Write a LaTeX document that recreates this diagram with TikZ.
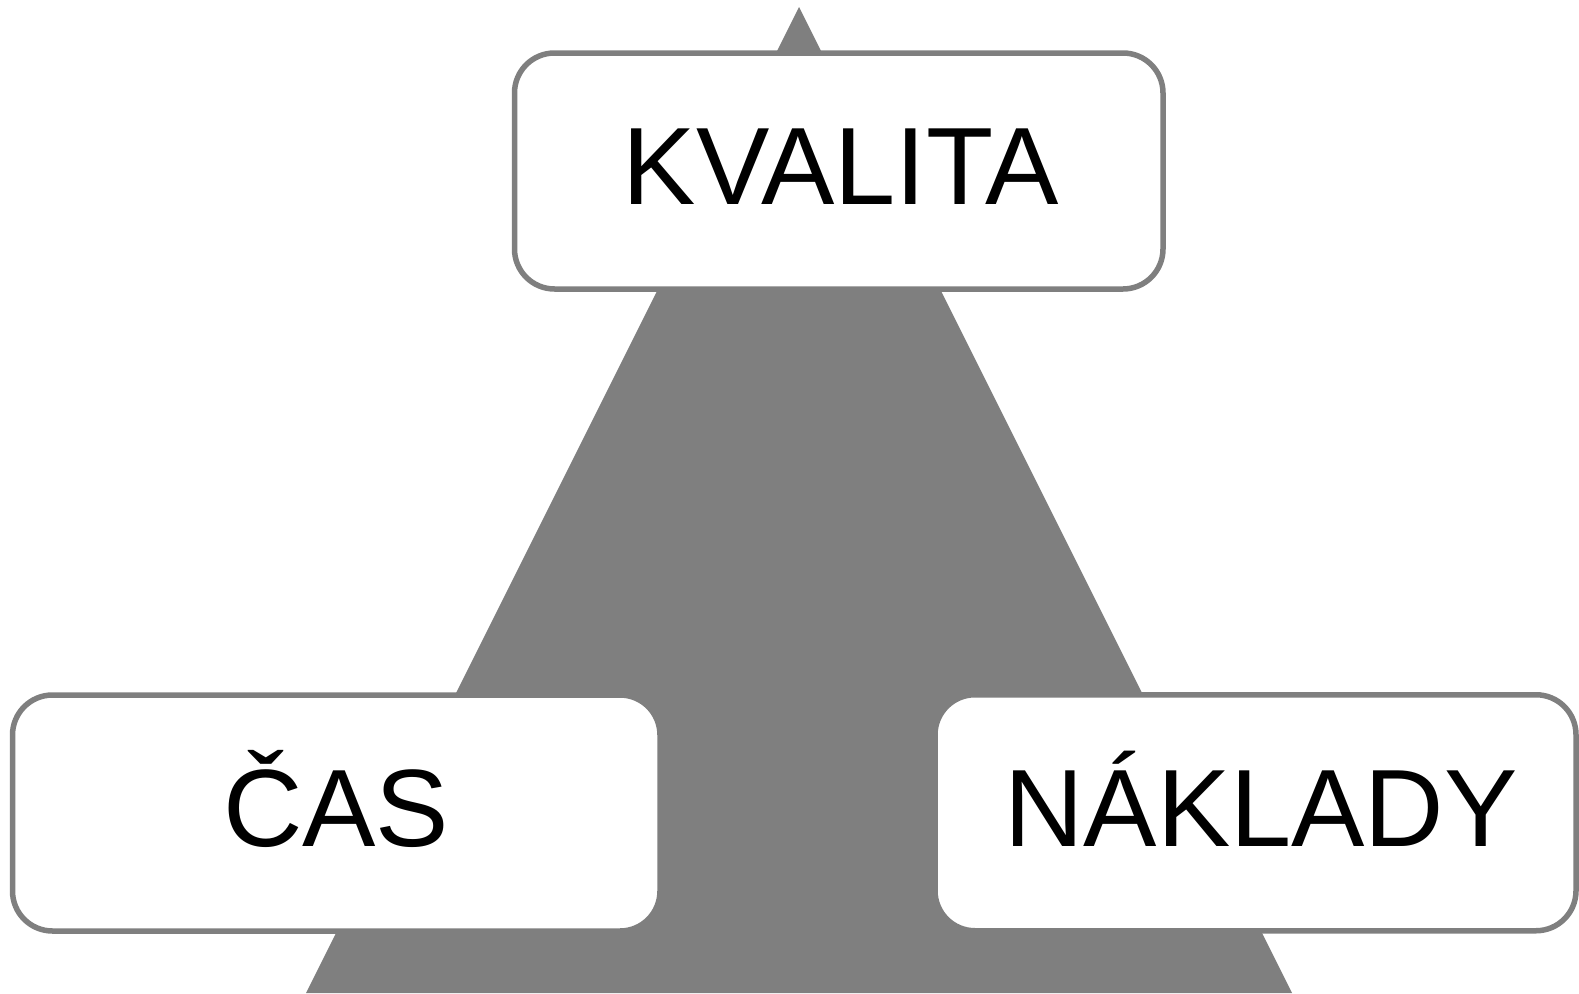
\documentclass[tikz,border=0pt]{standalone}
\usepackage{fontspec}
\setmainfont{Liberation Sans}
\definecolor{tgray}{RGB}{127,127,127}
\begin{document}
\begin{tikzpicture}[x=1pt,y=-1pt,
  box/.style={draw=tgray, line width=5.5pt, fill=white, rounded corners=40pt,
    inner sep=0pt, minimum height=236pt,
    font=\fontsize{110}{132}\selectfont, text height=78.8pt, text depth=11.5pt}]
\useasboundingbox (0,0) rectangle (1579,993);
% triangle in the background
\fill[tgray] (799,7) -- (306,993) -- (1292,993) -- cycle;
% boxes
\node[box, minimum width=648.5pt] (kval) at (838.75,171) {\kern4pt KVALITA};
\node[box, minimum width=647.5pt] (cas) at (336.25,813) {ČAS};
\node[box, minimum width=641pt] (nakl) at (1255.5,812.75) {\kern11pt NÁKLADY};
\end{tikzpicture}
\end{document}
